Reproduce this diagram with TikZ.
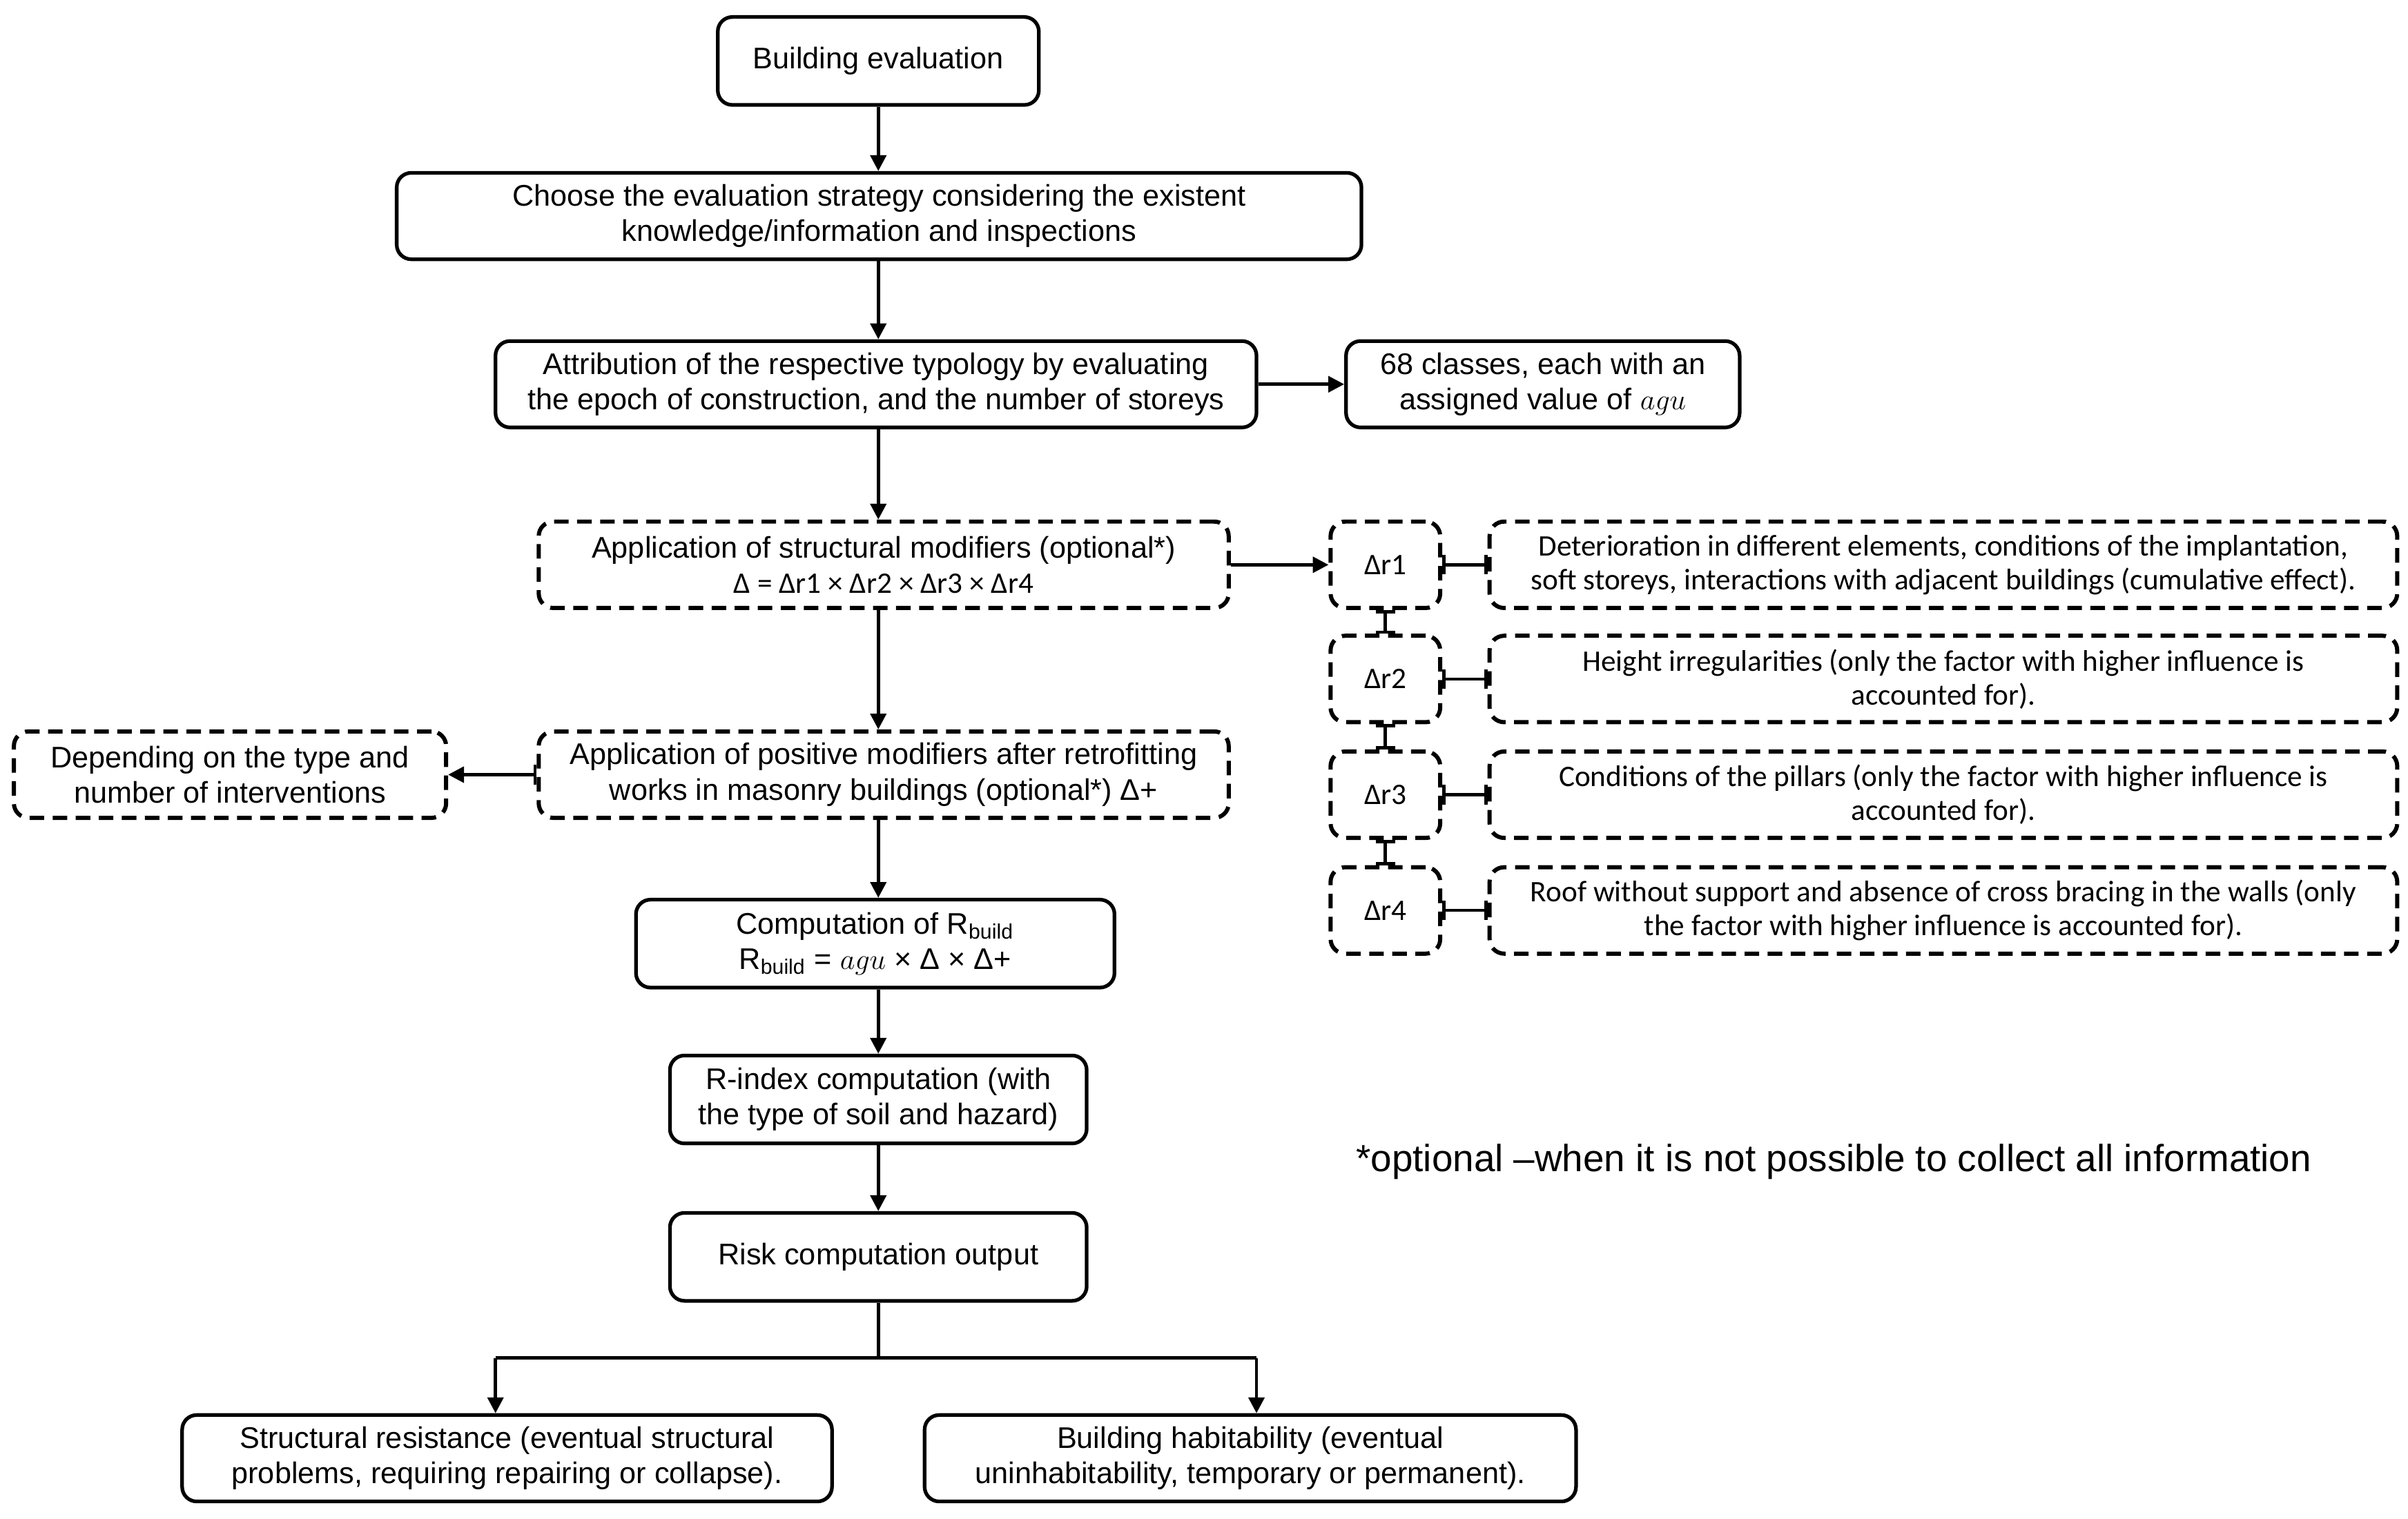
\documentclass[tikz,border=0pt]{standalone}
\usepackage{fontspec}
\setmainfont{Liberation Sans}
\newfontfamily\calfont{Carlito}
\usetikzlibrary{arrows.meta,calc}
\newcommand{\mkbox}[7]{%
  \pgfmathsetmacro\bw{(#5-#3)*0.02236}%
  \pgfmathsetmacro\bh{(#6-#4)*0.02236}%
  \node[#2, minimum width=\bw cm, minimum height=\bh cm] (#1) at ({(#3+#5)/2},{(#4+#6)/2}) {#7};}
\tikzset{
  mainfs/.style={font=\fontsize{12.3}{14.6}\selectfont},
  calfs/.style={font=\calfont\fontsize{12.3}{14}\selectfont},
  solidbox/.style={draw, line width=1.5pt, rounded corners=6pt, align=center, inner sep=0pt, mainfs},
  dashbox/.style={draw, line width=1.7pt, dash pattern=on 6pt off 3.5pt, rounded corners=6pt, align=center, inner sep=0pt, mainfs},
  dashcal/.style={dashbox, calfs},
  conn/.style={line width=1.3pt},
  arr/.style={conn, -{Triangle[length=6.5pt,width=6.5pt]}},
  tick/.style={conn, {Bar[width=8pt]}-{Bar[width=8pt]}},
  tickarr/.style={conn, {Bar[width=8pt]}-{Triangle[length=6.5pt,width=6.5pt]}}
}
\begin{document}
\begin{tikzpicture}[x=0.02236cm, y=-0.02236cm]
\useasboundingbox (0,0) rectangle (1560,984);
\mkbox{be}{solidbox}{465}{11}{673}{68}{Building evaluation}
\mkbox{ch}{solidbox}{257}{112}{882}{168}{Choose the evaluation strategy considering the existent\\knowledge/information and inspections}
\mkbox{at}{solidbox}{321}{221}{814}{277}{Attribution of the respective typology by evaluating\\the epoch of construction, and the number of storeys}
\mkbox{cl}{solidbox}{872}{221}{1127}{277}{68 classes, each with an\\assigned value of $agu$}
\mkbox{sm}{dashbox}{349}{338}{796}{394}{Application of structural modifiers (optional*)\\{\calfont Δ = Δr1 × Δr2 × Δr3 × Δr4}}
\mkbox{r1}{dashcal}{862}{338}{933}{394}{Δr1}
\mkbox{r2}{dashcal}{862}{412}{933}{468}{Δr2}
\mkbox{r3}{dashcal}{862}{487}{933}{543}{Δr3}
\mkbox{r4}{dashcal}{862}{562}{933}{618}{Δr4}
\mkbox{d1}{dashcal}{965}{338}{1553}{394}{Deterioration in different elements, conditions of the implantation,\\soft storeys, interactions with adjacent buildings (cumulative effect).}
\mkbox{d2}{dashcal}{965}{412}{1553}{468}{Height irregularities (only the factor with higher influence is\\accounted for).}
\mkbox{d3}{dashcal}{965}{487}{1553}{543}{Conditions of the pillars (only the factor with higher influence is\\accounted for).}
\mkbox{d4}{dashcal}{965}{562}{1553}{618}{Roof without support and absence of cross bracing in the walls (only\\the factor with higher influence is accounted for).}
\mkbox{dp}{dashbox}{9}{474}{289}{530}{Depending on the type and\\number of interventions}
\mkbox{pm}{dashbox}{349}{474}{796}{530}{Application of positive modifiers after retrofitting\\works in masonry buildings (optional*) Δ+}
\mkbox{cp}{solidbox}{412}{583}{722}{640}{Computation of R\textsubscript{build}\\R\textsubscript{build} = $agu$ × Δ × Δ+}
\mkbox{ri}{solidbox}{434}{684}{704}{741}{R-index computation (with\\the type of soil and hazard)}
\mkbox{rk}{solidbox}{434}{786}{704}{843}{Risk computation output}
\mkbox{sr}{solidbox}{118}{917}{539}{973}{Structural resistance (eventual structural\\problems, requiring repairing or collapse).}
\mkbox{hb}{solidbox}{599}{917}{1021}{973}{Building habitability (eventual\\uninhabitability, temporary or permanent).}
\node[font=\fontsize{15.6}{18}\selectfont, inner sep=0pt] (fn) at (1188,753) {*optional –when it is not possible to collect all information};
% main column
\coordinate (cx) at (569,0);
\draw[arr] (be.south -| cx) -- (ch.north -| cx);
\draw[arr] (ch.south -| cx) -- (at.north -| cx);
\draw[arr] (at.south -| cx) -- (sm.north -| cx);
\draw[arr] (sm.south -| cx) -- (pm.north -| cx);
\draw[arr] (pm.south -| cx) -- (cp.north -| cx);
\draw[arr] (cp.south -| cx) -- (ri.north -| cx);
\draw[arr] (ri.south -| cx) -- (rk.north -| cx);
% side connectors
\draw[arr] (at.east) -- (cl.west);
\draw[arr] (sm.east) -- (r1.west);
\draw[tickarr] (pm.west) -- (dp.east);
\draw[tick] (r1.east) -- (d1.west);
\draw[tick] (r2.east) -- (d2.west);
\draw[tick] (r3.east) -- (d3.west);
\draw[tick] (r4.east) -- (d4.west);
\draw[tick] (r1.south) -- (r2.north);
\draw[tick] (r2.south) -- (r3.north);
\draw[tick] (r3.south) -- (r4.north);
% split
\coordinate (j) at (569,880);
\coordinate (jl) at (321,880);
\coordinate (jr) at (814,880);
\draw[conn] (rk.south -| cx) -- (j);
\draw[conn] (jl) -- (jr);
\draw[arr] (jl) -- (jl |- sr.north);
\draw[arr] (jr) -- (jr |- hb.north);
\end{tikzpicture}
\end{document}
